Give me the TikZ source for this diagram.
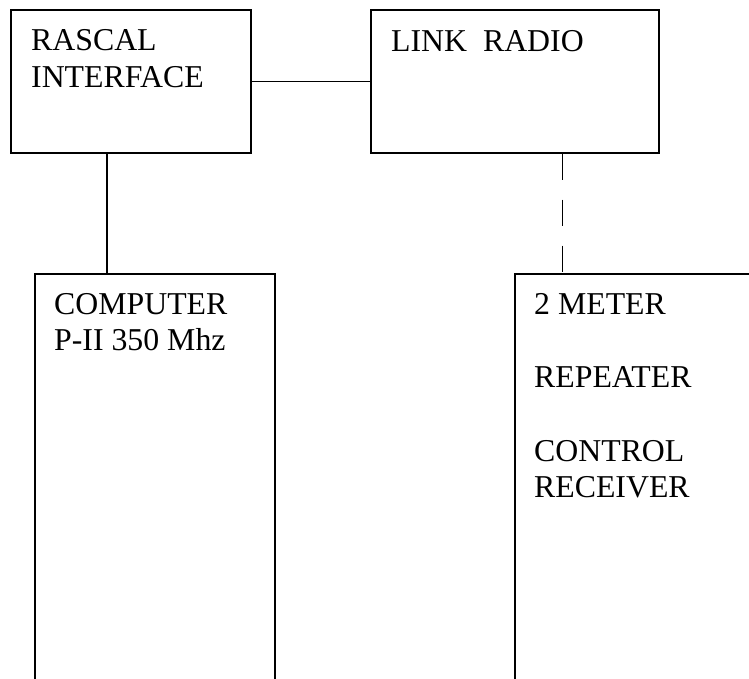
\documentclass[tikz,border=0pt]{standalone}
\usepackage{fontspec}
\setmainfont{Liberation Serif}
\begin{document}
\begin{tikzpicture}[x=1pt,y=-1pt,
  box/.style={draw=black,line width=1.4pt,rectangle,inner sep=0pt,minimum width=240pt},
  lbl/.style={anchor=north west,inner sep=0pt,align=left,font=\fontsize{31.8}{36.7}\selectfont},
  conn/.style={draw=black,line width=1.4pt}]
\useasboundingbox (0,0) rectangle (749,679);
\clip (0,0) rectangle (749,679);
\node[box,minimum height=143pt] (rascal) at (131,81.5) {};
\node[box,minimum height=143pt,minimum width=288pt] (link) at (515,81.5) {};
\node[box,minimum height=426pt] (computer) at (155,487) {};
\node[box,minimum height=426pt] (repeater) at (635,487) {};
\node[lbl] (trascal) at (31,29.2) {RASCAL\\INTERFACE};
\node[lbl] (tlink) at (391,30.5) {LINK\ \ RADIO};
\node[lbl] (tcomputer) at (54,292.8) {COMPUTER\\P-II 350 Mhz};
\node[lbl] (trepeater) at (534,293) {2 METER\\[36.7pt]REPEATER\\[36.7pt]CONTROL\\RECEIVER};
\draw[conn] (rascal.east) -- (link.west);
\draw[conn] ([xshift=-24pt]rascal.south) -- ([xshift=-48pt]computer.north);
\draw[conn,dash pattern=on 26pt off 20pt] ([xshift=47.7pt]link.south) -- ([xshift=-72.3pt]repeater.north);
\end{tikzpicture}
\end{document}
